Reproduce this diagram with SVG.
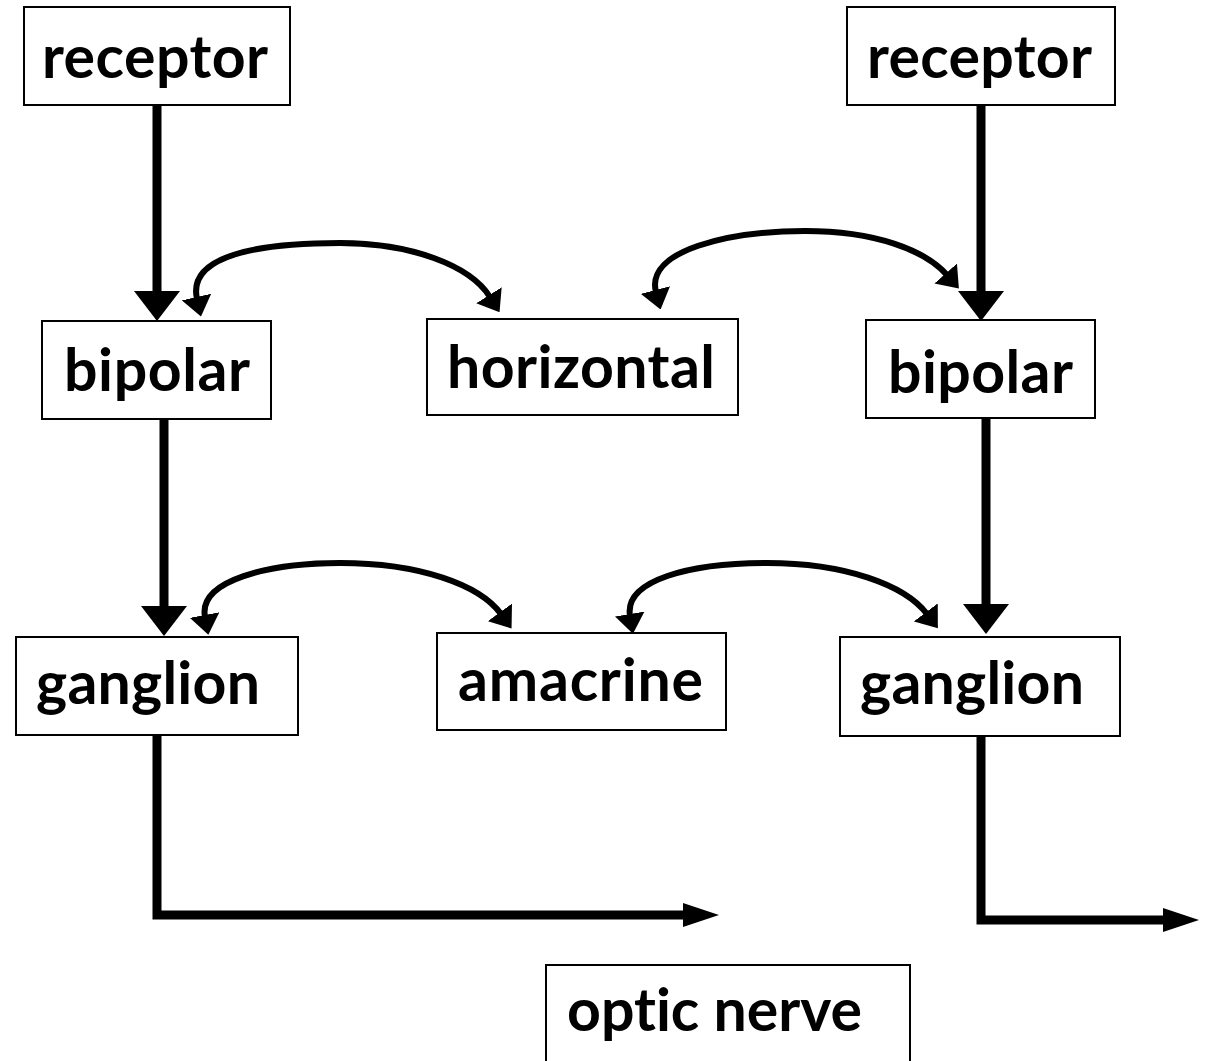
<svg xmlns="http://www.w3.org/2000/svg" width="1210" height="1061" viewBox="0 0 1210 1061">
<style>
.box{fill:#fff;stroke:#000;stroke-width:2}
.lbl{font-family:Lato,"Liberation Sans",sans-serif;font-weight:bold;font-size:59px;fill:#000;font-variant-ligatures:none;font-feature-settings:"liga" 0}
.thick{fill:none;stroke:#000;stroke-width:9}
.curve{fill:none;stroke:#000;stroke-width:6}
</style>
<defs>
<marker id="bigHead" markerUnits="userSpaceOnUse" viewBox="0 0 30 46" markerWidth="30" markerHeight="46" refX="1" refY="23" orient="auto"><path d="M0,0 L30,23 L0,46 z" fill="#000"/></marker>
<marker id="outHead" markerUnits="userSpaceOnUse" viewBox="0 0 36 24" markerWidth="36" markerHeight="24" refX="1" refY="12" orient="auto"><path d="M0,0 L36,12 L0,24 z" fill="#000"/></marker>
<marker id="smallHead" markerUnits="userSpaceOnUse" viewBox="0 0 20 30" markerWidth="20" markerHeight="30" refX="2" refY="15" orient="auto-start-reverse"><path d="M0,0 L20,15 L0,30 z" fill="#000"/></marker>
</defs>
<g id="connectors">
<path class="thick" d="M157,105 V292" marker-end="url(#bigHead)"/>
<path class="thick" d="M981,105 V292" marker-end="url(#bigHead)"/>
<path class="thick" d="M164,419 V607" marker-end="url(#bigHead)"/>
<path class="thick" d="M986,418 V605" marker-end="url(#bigHead)"/>
<path class="thick" d="M157,735 V915 H684" marker-end="url(#outHead)"/>
<path class="thick" d="M981,736 V920 H1164" marker-end="url(#outHead)"/>
<path class="curve" d="M197,299 C187,255 260,243 340,243 C410,243 470,265 490,297" marker-start="url(#smallHead)" marker-end="url(#smallHead)"/>
<path class="curve" d="M656,292 C645,250 730,231 805,231 C875,231 925,250 947,275" marker-start="url(#smallHead)" marker-end="url(#smallHead)"/>
<path class="curve" d="M205,617 C198,580 270,563 340,563 C420,563 480,585 501,614" marker-start="url(#smallHead)" marker-end="url(#smallHead)"/>
<path class="curve" d="M630,616 C624,580 690,563 767,563 C845,563 905,585 927,614" marker-start="url(#smallHead)" marker-end="url(#smallHead)"/>
</g>
<g id="receptor-left"><rect class="box" x="24" y="7" width="266" height="98"/><text class="lbl" x="42" y="78" textLength="226">receptor</text></g>
<g id="receptor-right"><rect class="box" x="847" y="7" width="268" height="98"/><text class="lbl" x="867" y="78" textLength="225">receptor</text></g>
<g id="bipolar-left"><rect class="box" x="42" y="321" width="229" height="98"/><text class="lbl" x="64" y="391" textLength="186">bipolar</text></g>
<g id="horizontal"><rect class="box" x="427" y="319" width="311" height="96"/><text class="lbl" x="447" y="388" textLength="268">horizontal</text></g>
<g id="bipolar-right"><rect class="box" x="866" y="320" width="229" height="98"/><text class="lbl" x="888" y="393" textLength="185">bipolar</text></g>
<g id="ganglion-left"><rect class="box" x="16" y="637" width="282" height="98"/><text class="lbl" x="36" y="704" textLength="224">ganglion</text></g>
<g id="amacrine"><rect class="box" x="437" y="633" width="289" height="97"/><text class="lbl" x="458" y="701" textLength="245">amacrine</text></g>
<g id="ganglion-right"><rect class="box" x="840" y="637" width="280" height="99"/><text class="lbl" x="860" y="704" textLength="224">ganglion</text></g>
<g id="optic-nerve"><rect class="box" x="546" y="965" width="364" height="100"/><text class="lbl" x="567" y="1031" textLength="295">optic nerve</text></g>
</svg>
